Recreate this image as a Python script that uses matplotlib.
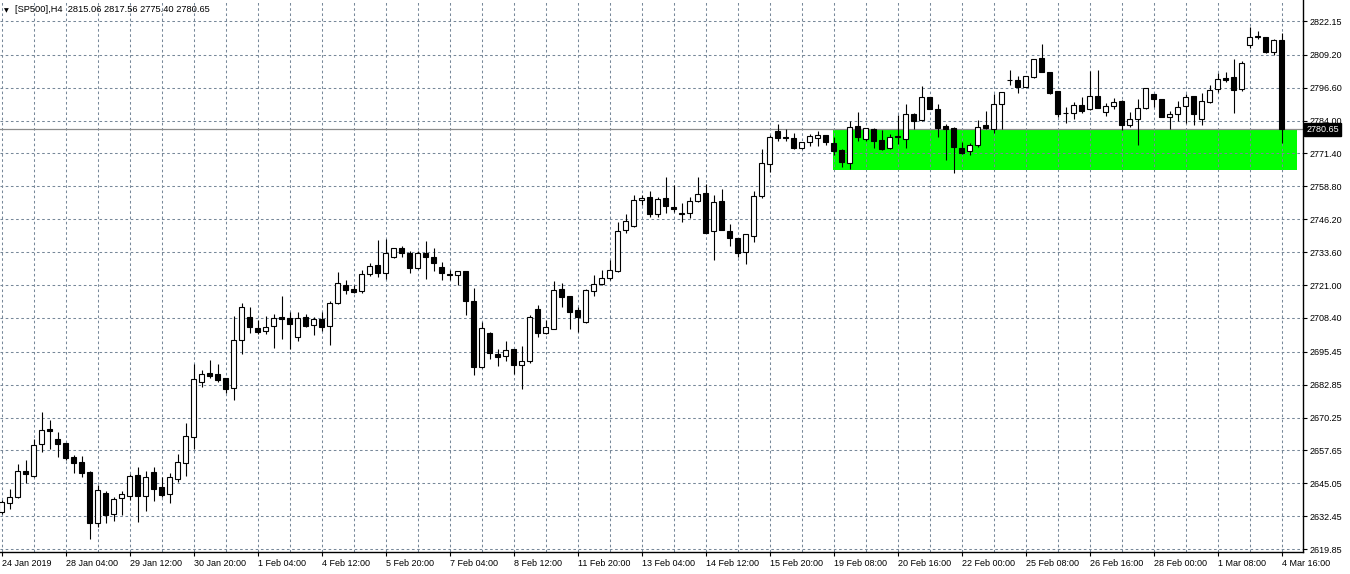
import numpy as np
import matplotlib
matplotlib.use("Agg")
import matplotlib.pyplot as plt
import matplotlib.transforms as mtransforms
from matplotlib.patches import Rectangle

plt.rcParams['font.family'] = ['Liberation Sans', 'DejaVu Sans']

# SP500 H4 candles, 24 Jan 2019 .. 4 Mar 2019
opens = [2634.1, 2637.4, 2639.9, 2649.8, 2647.8, 2660.0, 2665.7, 2662.0, 2660.5, 2655.1,
         2653.2, 2649.4, 2630.0, 2641.2, 2633.2, 2639.3, 2640.3, 2648.1, 2640.3, 2649.4,
         2643.5, 2640.8, 2646.8, 2652.7, 2662.7, 2683.7, 2687.2, 2686.8, 2685.3, 2681.6,
         2699.8, 2708.6, 2704.4, 2703.3, 2705.2, 2708.6, 2708.3, 2701.0, 2708.6, 2705.6,
         2707.9, 2705.2, 2714.0, 2720.9, 2719.4, 2718.8, 2725.1, 2728.7, 2725.5, 2731.6,
         2735.1, 2733.2, 2727.4, 2733.2, 2731.6, 2727.8, 2725.2, 2724.7, 2726.3, 2714.9,
         2689.5, 2702.5, 2694.6, 2693.7, 2696.5, 2690.3, 2692.0, 2711.7, 2702.7, 2704.3,
         2719.5, 2716.8, 2711.3, 2707.0, 2718.6, 2721.3, 2723.8, 2726.5, 2742.0, 2743.5,
         2753.5, 2754.6, 2748.1, 2754.2, 2750.8, 2748.5, 2748.7, 2753.1, 2756.3, 2741.6,
         2753.2, 2741.6, 2738.9, 2733.5, 2739.9, 2755.2, 2767.3, 2779.9, 2777.6, 2777.2,
         2773.4, 2775.7, 2777.2, 2778.4, 2775.3, 2772.6, 2767.9, 2781.9, 2777.1, 2780.8,
         2776.6, 2773.4, 2778.1, 2777.1, 2786.4, 2784.3, 2792.9, 2788.3, 2781.8, 2781.2,
         2773.5, 2772.2, 2774.5, 2782.2, 2780.9, 2790.2, 2799.4, 2799.4, 2797.0, 2800.6,
         2807.9, 2802.5, 2795.2, 2787.0, 2787.0, 2790.0, 2788.3, 2793.3, 2787.2, 2789.5,
         2791.5, 2782.4, 2784.7, 2788.7, 2794.1, 2792.2, 2785.5, 2786.4, 2789.5, 2793.3,
         2784.7, 2791.0, 2796.0, 2800.2, 2800.6, 2796.0, 2812.9, 2816.4, 2815.9, 2810.2,
         2815.06]
highs = [2638.7, 2642.8, 2652.4, 2653.9, 2662.1, 2672.4, 2669.3, 2664.7, 2660.6, 2655.9,
         2655.5, 2649.6, 2644.3, 2642.1, 2639.7, 2642.2, 2648.6, 2651.3, 2649.8, 2651.3,
         2647.4, 2649.0, 2656.3, 2668.2, 2690.6, 2688.5, 2692.2, 2690.6, 2685.5, 2709.0,
         2714.1, 2712.5, 2707.6, 2709.0, 2709.8, 2716.7, 2710.6, 2710.6, 2709.8, 2708.6,
         2710.6, 2714.8, 2726.0, 2722.9, 2720.9, 2726.8, 2729.5, 2738.3, 2738.6, 2735.2,
         2736.1, 2734.0, 2734.0, 2737.9, 2735.1, 2729.7, 2726.8, 2726.4, 2726.4, 2719.8,
         2706.7, 2703.1, 2696.5, 2699.5, 2696.6, 2697.5, 2709.4, 2713.4, 2707.7, 2722.6,
         2721.7, 2716.9, 2712.5, 2719.6, 2724.7, 2726.8, 2730.7, 2745.2, 2748.2, 2755.6,
         2755.4, 2756.9, 2754.6, 2762.3, 2759.3, 2752.3, 2754.6, 2762.3, 2759.6, 2755.4,
         2757.8, 2744.4, 2739.0, 2740.5, 2757.0, 2773.0, 2778.4, 2782.7, 2780.8, 2779.1,
         2775.8, 2778.8, 2780.0, 2778.5, 2777.6, 2773.3, 2783.9, 2787.3, 2781.3, 2781.1,
         2780.4, 2778.9, 2786.1, 2790.4, 2786.8, 2797.3, 2793.0, 2790.4, 2782.6, 2781.4,
         2775.7, 2775.3, 2784.2, 2787.7, 2794.2, 2795.0, 2803.4, 2801.1, 2801.1, 2807.6,
         2813.3, 2802.6, 2795.3, 2789.3, 2791.1, 2792.9, 2803.1, 2803.4, 2790.6, 2792.5,
         2791.9, 2787.3, 2792.2, 2796.5, 2794.2, 2792.3, 2787.7, 2791.5, 2794.3, 2793.4,
         2794.5, 2797.5, 2802.1, 2802.6, 2807.5, 2806.7, 2819.7, 2818.3, 2816.0, 2815.1,
         2817.56]
lows = [2633.3, 2635.1, 2639.5, 2645.3, 2647.6, 2657.2, 2658.2, 2655.2, 2654.0, 2649.1,
        2647.4, 2623.6, 2628.4, 2629.7, 2630.7, 2633.0, 2638.7, 2630.3, 2634.6, 2638.4,
        2639.9, 2637.4, 2645.6, 2648.0, 2658.1, 2681.8, 2685.3, 2684.0, 2679.5, 2677.1,
        2694.5, 2702.6, 2702.1, 2702.1, 2697.0, 2700.2, 2696.4, 2699.5, 2704.8, 2702.0,
        2703.3, 2698.2, 2713.6, 2717.5, 2718.1, 2718.1, 2724.5, 2724.2, 2723.4, 2731.4,
        2731.9, 2725.7, 2727.0, 2723.4, 2726.5, 2723.1, 2723.1, 2721.1, 2709.6, 2686.5,
        2689.3, 2692.6, 2690.1, 2692.0, 2687.0, 2681.3, 2691.3, 2701.1, 2702.1, 2704.0,
        2712.7, 2704.3, 2702.9, 2706.6, 2716.9, 2721.0, 2723.1, 2726.1, 2741.1, 2743.1,
        2751.8, 2747.2, 2747.0, 2748.5, 2749.0, 2745.0, 2746.8, 2752.9, 2740.9, 2730.6,
        2741.9, 2736.1, 2731.6, 2729.0, 2737.4, 2754.5, 2764.2, 2776.3, 2776.3, 2773.0,
        2773.1, 2774.2, 2774.2, 2774.5, 2770.7, 2766.4, 2765.6, 2776.1, 2776.2, 2773.6,
        2772.7, 2773.2, 2775.0, 2773.6, 2780.7, 2783.7, 2788.3, 2777.8, 2768.9, 2764.0,
        2771.1, 2770.7, 2773.8, 2780.7, 2779.1, 2780.9, 2797.6, 2794.5, 2796.9, 2800.3,
        2802.5, 2794.3, 2785.5, 2783.0, 2784.7, 2787.0, 2788.2, 2788.8, 2785.9, 2788.3,
        2780.3, 2781.7, 2774.8, 2788.6, 2789.1, 2785.4, 2780.7, 2784.0, 2783.0, 2782.2,
        2782.2, 2790.6, 2794.8, 2798.8, 2787.0, 2795.2, 2811.7, 2815.1, 2810.0, 2809.2,
        2775.40]
closes = [2637.9, 2639.7, 2649.8, 2648.5, 2659.6, 2665.4, 2665.2, 2660.2, 2654.9, 2652.9,
          2649.1, 2630.0, 2642.4, 2633.0, 2639.0, 2640.8, 2647.7, 2640.3, 2647.4, 2643.0,
          2640.6, 2647.4, 2653.1, 2663.1, 2684.9, 2686.8, 2686.3, 2684.7, 2681.3, 2699.8,
          2712.7, 2704.8, 2702.9, 2704.8, 2708.3, 2707.9, 2706.0, 2708.3, 2705.4, 2707.9,
          2705.0, 2714.0, 2721.7, 2719.2, 2718.5, 2725.2, 2728.2, 2725.5, 2733.2, 2735.1,
          2733.2, 2727.6, 2733.2, 2731.9, 2729.3, 2725.5, 2724.7, 2726.3, 2715.0, 2689.7,
          2704.4, 2694.9, 2693.6, 2696.0, 2690.5, 2691.8, 2708.8, 2702.7, 2704.8, 2719.1,
          2716.5, 2710.8, 2708.9, 2719.0, 2721.3, 2723.6, 2726.7, 2741.6, 2745.4, 2753.5,
          2754.2, 2748.4, 2753.9, 2751.2, 2750.0, 2748.4, 2753.1, 2755.9, 2741.1, 2752.7,
          2742.1, 2738.9, 2733.2, 2740.4, 2755.0, 2767.6, 2777.6, 2777.5, 2777.2, 2773.4,
          2775.7, 2778.0, 2778.4, 2775.7, 2772.2, 2768.3, 2781.4, 2777.8, 2781.1, 2776.3,
          2773.1, 2777.6, 2777.6, 2786.4, 2784.0, 2792.9, 2788.6, 2781.2, 2780.9, 2774.0,
          2771.7, 2774.5, 2781.7, 2781.3, 2790.2, 2794.8, 2799.5, 2797.0, 2801.0, 2807.5,
          2802.7, 2794.7, 2786.6, 2787.1, 2789.9, 2787.8, 2793.3, 2788.9, 2789.5, 2791.0,
          2782.4, 2784.5, 2788.7, 2796.4, 2792.4, 2785.5, 2786.4, 2789.1, 2792.9, 2786.4,
          2791.4, 2795.6, 2799.8, 2799.7, 2795.6, 2806.0, 2815.9, 2815.9, 2810.2, 2814.8,
          2780.65]

# time labels shown every 8 bars
time_labels = ["24 Jan 2019", "28 Jan 04:00", "29 Jan 12:00", "30 Jan 20:00", "1 Feb 04:00",
               "4 Feb 12:00", "5 Feb 20:00", "7 Feb 04:00", "8 Feb 12:00", "11 Feb 20:00",
               "13 Feb 04:00", "14 Feb 12:00", "15 Feb 20:00", "19 Feb 08:00", "20 Feb 16:00",
               "22 Feb 00:00", "25 Feb 08:00", "26 Feb 16:00", "28 Feb 00:00", "1 Mar 08:00",
               "4 Mar 16:00"]
price_labels = ["2822.15", "2809.20", "2796.60", "2784.00", "2771.40", "2758.80", "2746.20",
                "2733.60", "2721.00", "2708.40", "2695.45", "2682.85", "2670.25", "2657.65",
                "2645.05", "2632.45", "2619.85"]

last_price = 2780.65
# support zone drawn on the chart (bar index / price)
zone_left, zone_right = 103.95, 161.9
zone_bottom, zone_top = 2765.2, 2780.3

opens = np.array(opens)
highs = np.array(highs)
lows = np.array(lows)
closes = np.array(closes)
idx = np.arange(len(opens))

fig = plt.figure(figsize=(13.5, 5.74), dpi=100)
ax = fig.add_axes([0, 22 / 574, 1302.5 / 1350, 552 / 574])

# zone in the background
ax.add_patch(Rectangle((zone_left, zone_bottom), zone_right - zone_left, zone_top - zone_bottom,
                       facecolor="#00ff00", edgecolor="none", zorder=0.2))

# candles: wick first, body on top
bull = closes >= opens
ax.vlines(idx, lows, highs, color="black", linewidth=0.8, zorder=2)
ax.bar(idx, np.abs(closes - opens), width=0.58, bottom=np.minimum(opens, closes),
       color=np.where(bull, "white", "black"), edgecolor="black", linewidth=0.8, zorder=3)

# last price line and its label on the price scale
ax.axhline(last_price, color="#8c8c8c", linewidth=0.9, zorder=1.5)
trans = mtransforms.blended_transform_factory(ax.transAxes, ax.transData)
ax.text(1.0 + 4 / 1302.5, last_price, "%.2f" % last_price, transform=trans, ha="left",
        va="center", fontsize=6.5, color="white", clip_on=False, zorder=6,
        bbox=dict(boxstyle="square,pad=0.25", facecolor="black", edgecolor="black"))

ax.set_xlim(-0.2125, 162.6)
ax.set_ylim(2618.73, 2830.2)

# axes look like MT4
ax.yaxis.tick_right()
ax.set_yticks([float(p) for p in price_labels])
ax.set_yticklabels(price_labels)
ax.set_xticks(np.arange(0, len(opens), 8))
ax.set_xticklabels(time_labels, ha="left")
ax.set_xticks(np.arange(0, len(opens), 4), minor=True)
ax.tick_params(axis="both", which="major", direction="out", length=3, width=0.8,
               labelsize=6.5, pad=2, colors="black")
ax.tick_params(axis="x", which="minor", length=0)

ax.set_axisbelow(True)
grid_style = dict(color="#778899", linestyle=(0, (2.5, 2.5)), linewidth=0.75)
ax.grid(axis="y", which="major", **grid_style)
ax.grid(axis="x", which="both", **grid_style)

ax.spines["top"].set_visible(False)
ax.spines["left"].set_visible(False)
ax.spines["right"].set_linewidth(1.0)
ax.spines["bottom"].set_linewidth(1.0)

# chart header
fig.text(4 / 1350, 1 - 12 / 574, "\u25bc", fontsize=4.5, family="DejaVu Sans", va="baseline")
fig.text(15 / 1350, 1 - 11.5 / 574,
         "[SP500],H4  %.2f %.2f %.2f %.2f" % (opens[-1], highs[-1], lows[-1], closes[-1]),
         fontsize=6.7, va="baseline", color="black")

fig.savefig("out.png", dpi=100, facecolor="white")
